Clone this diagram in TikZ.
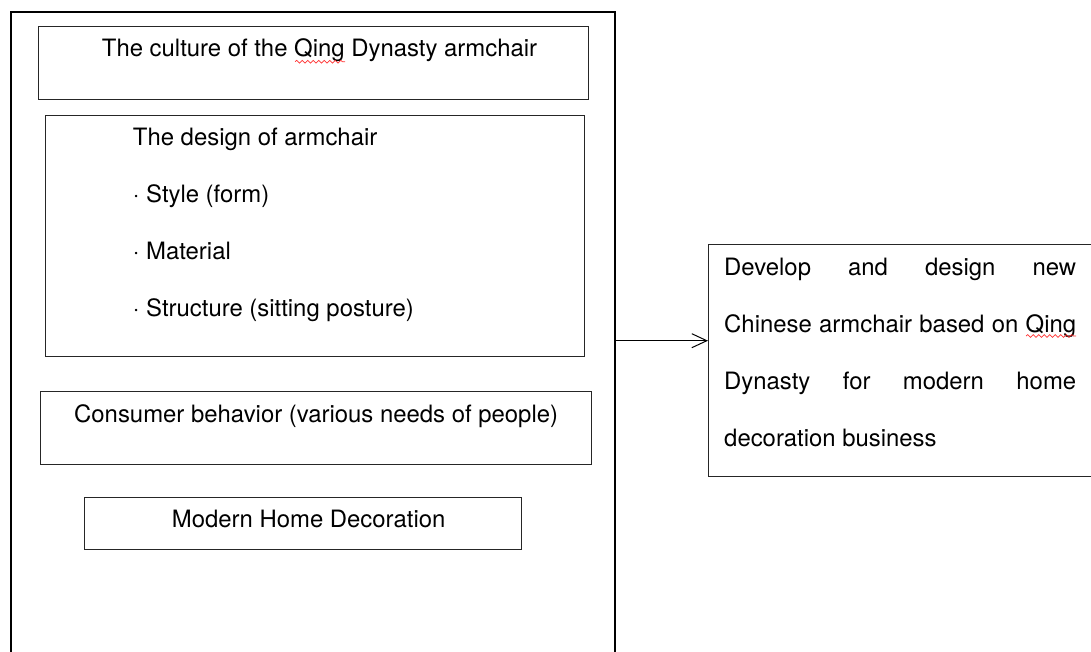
\documentclass[tikz,border=0pt]{standalone}
\usepackage{fontspec}
\setmainfont{TeX Gyre Heros}
\usetikzlibrary{positioning,arrows.meta,decorations.pathmorphing}

\tikzset{
  box/.style={draw=black!85, line width=1pt, anchor=north west, inner sep=0pt, outer sep=0pt},
  txt/.style={anchor=base west, inner sep=0pt, font=\fontsize{23.9}{28}\selectfont},
  spell/.style={draw=red!80, line width=0.7pt, decorate,
    decoration={snake, segment length=5.5pt, amplitude=1.4pt}}
}

\begin{document}
\begin{tikzpicture}[x=1pt,y=-1pt]
\useasboundingbox (0,0) rectangle (1091,651);
\clip (0,0) rectangle (1091,651);
% left frame, runs off the bottom
\node[box, draw=black, line width=2pt, minimum width=604.3, minimum height=700] (frame) at (10.7,11.7) {};

\node[box, minimum width=550, minimum height=72.6] (culture) at (38.3,26.7) {};
\node[txt] (cultureT) at (101.7,56.7) {The culture of the Qing Dynasty armchair};

\node[box, minimum width=539.3, minimum height=241.7] (design) at (45,115) {};
\foreach \t [count=\i] in {The design of armchair, · Style (form), · Material, · Structure (sitting posture)}
  \node[txt] (designT\i) at (132.7,{145+57.2*(\i-1)}) {\t};

\node[box, minimum width=551.7, minimum height=73] (consumer) at (40,391) {};
\node[txt] (consumerT) at (74,422.7) {Consumer behavior (various needs of people)};

\node[box, minimum width=436.7, minimum height=51.7] (modern) at (84.3,497.3) {};
\node[txt] (modernT) at (171.7,527.7) {Modern Home Decoration};

% result box, cut by the right edge
\node[box, minimum width=420, minimum height=232] (result) at (708,244) {};
\foreach \t [count=\i] in {Develop and design new, Chinese armchair based on Qing, Dynasty for modern home}
  \node[txt] (resultT\i) at (724,{275.7+57*(\i-1)}) {\makebox[352pt][s]{\t}};
\node[txt] (resultT4) at (724,446.7) {decoration business};

\coordinate (tap) at (frame.east |- 0,340.7);
\draw[-{Straight Barb[length=15pt,width=14pt]}, line width=1pt] (tap) -- (tap -| result.west);

% spell-check marks under Qing
\draw[spell] (295,61.7) -- (345,61.7);
\draw[spell] (1026,336) -- (1076,336);
\end{tikzpicture}
\end{document}
